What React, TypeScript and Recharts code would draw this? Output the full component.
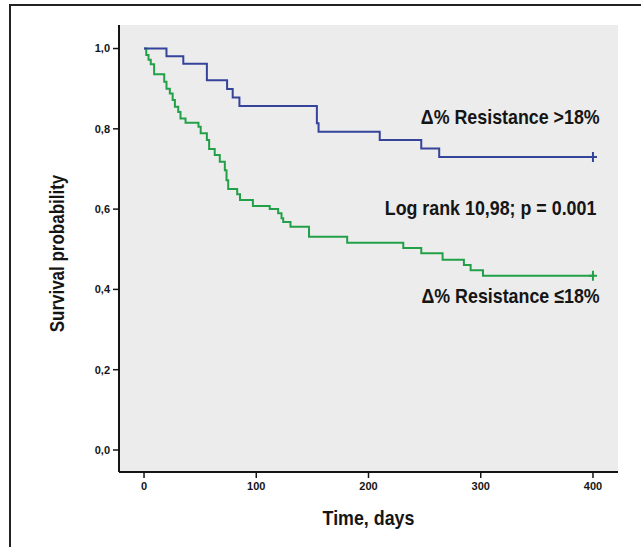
import React from 'react';
import { ComposedChart, Line, XAxis, YAxis, CartesianGrid, ReferenceDot } from 'recharts';

// ---- Data ----
const xTicks = [0, 100, 200, 300, 400];
const yTicks = [0, 0.2, 0.4, 0.6, 0.8, 1.0];

// Δ% Resistance > 18% (blue)
const highTimes = [0, 20, 35, 56, 74, 79, 85, 154, 155.5, 210, 247, 263, 400];
const highSurv = [1.0, 0.981, 0.962, 0.921, 0.899, 0.878, 0.857, 0.814, 0.793, 0.772, 0.751, 0.730, 0.730];

// Δ% Resistance ≤ 18% (green)
const lowTimes = [0, 2, 4, 6, 9, 18, 20, 23, 25.5, 27.5, 30.5, 32.5, 37, 48.5, 50.5, 56, 58, 63, 67.5, 72, 73.5, 75, 83, 85.5, 97, 112, 119.5, 122.5, 124, 130.5, 147, 181, 231, 247, 266, 285, 291, 302, 400];
const lowSurv = [1.0, 0.984, 0.972, 0.961, 0.936, 0.917, 0.900, 0.888, 0.872, 0.855, 0.842, 0.826, 0.815, 0.805, 0.789, 0.772, 0.750, 0.735, 0.718, 0.697, 0.672, 0.650, 0.637, 0.623, 0.608, 0.600, 0.590, 0.577, 0.568, 0.556, 0.531, 0.516, 0.503, 0.490, 0.474, 0.461, 0.448, 0.434, 0.434];

const annotationTexts = ['Δ% Resistance >18%', 'Log rank 10,98; p = 0.001', 'Δ% Resistance ≤18%'];
const annotationX = [406, 403, 406];
const annotationY = [0.830, 0.603, 0.384];

const xTitle = 'Time, days';
const yTitle = 'Survival probability';

const xDomain = [-22.3, 422.3];
const yDomain = [-0.0548, 1.0586];

// ---- Styles ----
const BLUE = '#35439a';
const GREEN = '#22a048';
const INK = '#151515';
const FONT = "'Liberation Sans', Arial, sans-serif";
const SQUEEZE = 0.85;

const highData = highTimes.map((t, i) => ({ t, v: highSurv[i] }));
const lowData = lowTimes.map((t, i) => ({ t, v: lowSurv[i] }));

const censorDot = (color: string, lastIndex: number) => (props: any) => {
  const { cx, cy, index } = props;
  if (index !== lastIndex || cx == null || cy == null) return <g key={`d${index}`} />;
  return (
    <path
      key={`d${index}`}
      d={`M${cx - 4},${cy}H${cx + 4}M${cx},${cy - 5}V${cy + 5}`}
      stroke={color}
      strokeWidth={2}
      fill="none"
    />
  );
};

const fmt = (v: number) => v.toFixed(1).replace('.', ',');

const AnnotLabel = (props: any) => {
  const { viewBox, txt } = props;
  if (!viewBox) return null;
  const x = viewBox.x + (viewBox.width || 0) / 2;
  const y = viewBox.y + (viewBox.height || 0) / 2;
  return (
    <text
      transform={`translate(${x},${y}) scale(${SQUEEZE},1)`}
      textAnchor="end"
      dy="0.36em"
      fontSize={21}
      fontWeight={700}
      fontFamily={FONT}
      fill={INK}
    >
      {txt}
    </text>
  );
};

const XTitle = (props: any) => {
  const { viewBox, txt } = props;
  if (!viewBox) return null;
  const x = viewBox.x + viewBox.width / 2;
  const y = viewBox.y + 45;
  return (
    <text
      transform={`translate(${x},${y}) scale(${SQUEEZE},1)`}
      textAnchor="middle"
      dy="0.36em"
      fontSize={21}
      fontWeight={700}
      fontFamily={FONT}
      fill={INK}
    >
      {txt}
    </text>
  );
};

const YTitle = (props: any) => {
  const { viewBox, txt } = props;
  if (!viewBox) return null;
  const x = viewBox.x + 57;
  const y = viewBox.y + viewBox.height / 2 + 5;
  return (
    <text
      transform={`translate(${x},${y}) rotate(-90) scale(${SQUEEZE},1)`}
      textAnchor="middle"
      dy="0.36em"
      fontSize={20}
      fontWeight={700}
      fontFamily={FONT}
      fill={INK}
    >
      {txt}
    </text>
  );
};

export default function App() {
  const axisLine = { stroke: INK, strokeWidth: 2 };
  const tickLine = { stroke: INK, strokeWidth: 1.5 };
  const tickStyle = { fill: INK, fontSize: 11, fontWeight: 700, fontFamily: FONT };
  return (
    <div style={{ position: 'absolute', left: 0, top: 0, width: 641, height: 547, background: '#fff', overflow: 'hidden' }}>
      <div
        style={{
          position: 'absolute',
          left: 9,
          top: 4,
          width: 700,
          height: 600,
          borderTop: '2px solid #222',
          borderLeft: '2px solid #222',
        }}
      />
      <div style={{ position: 'absolute', left: 0, top: 0 }}>
        <ComposedChart width={641} height={547} margin={{ top: 25, right: 23, bottom: 0, left: 0 }}>
          <CartesianGrid horizontal={false} vertical={false} fill="#ececec" stroke="none" />
          <XAxis
            dataKey="t"
            type="number"
            domain={xDomain}
            ticks={xTicks}
            allowDataOverflow
            height={75}
            axisLine={axisLine}
            tickLine={tickLine}
            tickSize={6}
            tickMargin={4}
            tick={tickStyle}
            label={<XTitle txt={xTitle} />}
          />
          <XAxis xAxisId="top" orientation="top" type="number" domain={xDomain} height={0} tick={false} tickLine={false} axisLine={axisLine} />
          <YAxis
            type="number"
            domain={yDomain}
            ticks={yTicks}
            allowDataOverflow
            width={119}
            axisLine={axisLine}
            tickLine={tickLine}
            tickSize={6}
            tickMargin={3}
            tick={tickStyle}
            tickFormatter={fmt}
            label={<YTitle txt={yTitle} />}
          />
          <YAxis yAxisId="right" orientation="right" type="number" domain={yDomain} width={0} tick={false} tickLine={false} axisLine={axisLine} />
          <Line
            data={lowData}
            dataKey="v"
            type="stepAfter"
            stroke={GREEN}
            strokeWidth={2}
            dot={censorDot(GREEN, lowData.length - 1)}
            activeDot={false}
            isAnimationActive={false}
          />
          <Line
            data={highData}
            dataKey="v"
            type="stepAfter"
            stroke={BLUE}
            strokeWidth={2}
            dot={censorDot(BLUE, highData.length - 1)}
            activeDot={false}
            isAnimationActive={false}
          />
          {annotationTexts.map((txt, i) => (
            <ReferenceDot
              key={txt}
              x={annotationX[i]}
              y={annotationY[i]}
              r={0}
              fill="none"
              stroke="none"
              label={<AnnotLabel txt={txt} />}
            />
          ))}
        </ComposedChart>
      </div>
    </div>
  );
}
